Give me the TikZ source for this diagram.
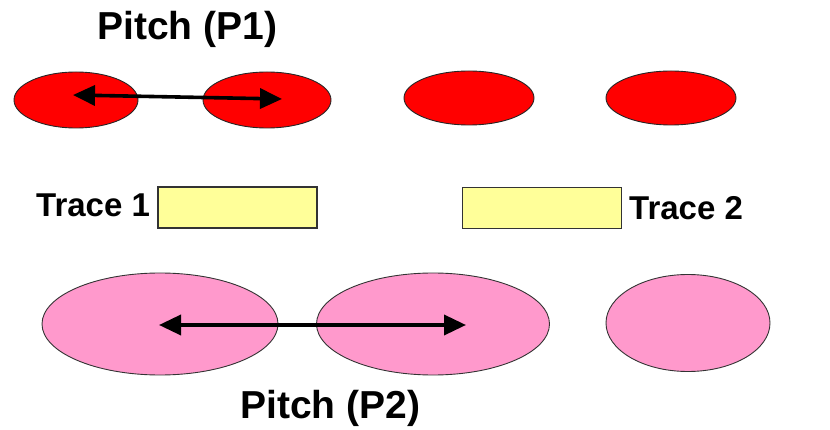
\documentclass[tikz,border=0pt]{standalone}
\usepackage{fontspec}
\setmainfont{Liberation Sans}
\usetikzlibrary{shapes.geometric,arrows.meta}
\definecolor{pitchred}{HTML}{FF0000}
\definecolor{pitchpink}{HTML}{FF99CC}
\definecolor{traceyellow}{HTML}{FFFF99}
\tikzset{
  redpitch/.style={ellipse, draw=black!85, line width=0.9pt, fill=pitchred, inner sep=0pt},
  pinkpitch/.style={ellipse, draw=black!80, line width=0.9pt, fill=pitchpink, inner sep=0pt},
  tracebox/.style={rectangle, draw=black!80, line width=1.4pt, fill=traceyellow, inner sep=0pt,
    minimum width=159pt, minimum height=41pt},
  title/.style={font=\bfseries\fontsize{39}{44}\selectfont, anchor=base west, inner sep=0pt},
  tracelabel/.style={font=\bfseries\fontsize{33}{38}\selectfont, anchor=base west, inner sep=0pt},
  pitcharrow/.style={line width=3.6pt, {Triangle[length=22pt,width=20pt]}-{Triangle[length=22pt,width=20pt]}}
}
\begin{document}
\begin{tikzpicture}[x=1pt, y=-1pt]
  \useasboundingbox (0,0) rectangle (830,430);

  % top row of pitches (P1)
  \node[title] (p1) at (97,40) {Pitch (P1)};
  \node[redpitch, minimum width=124pt, minimum height=56pt] (r1) at (76,100) {};
  \node[redpitch, minimum width=128pt, minimum height=56pt] (r2) at (267,100) {};
  \node[redpitch, minimum width=130pt, minimum height=54pt] (r3) at (469,98) {};
  \node[redpitch, minimum width=130pt, minimum height=54pt] (r4) at (671,98) {};
  \coordinate (r1t) at (73,95);
  \coordinate (r2t) at (282,99);

  % traces
  \node[tracebox] (t1) at (237.5,207.5) {};
  \node[tracebox] (t2) at (542,208) {};
  \node[tracelabel] (t1l) at (36,217) {Trace 1};
  \node[tracelabel] (t2l) at (629,220) {Trace 2};

  % bottom row of pitches (P2)
  \node[pinkpitch, minimum width=236pt, minimum height=102pt] (k1) at (160,324) {};
  \node[pinkpitch, minimum width=233pt, minimum height=102pt] (k2) at (433,324) {};
  \node[pinkpitch, minimum width=164pt, minimum height=97pt] (k3) at (688,323) {};
  \node[title] (p2) at (240,418) {Pitch (P2)};
  \coordinate (k1t) at (159,325);
  \coordinate (k2t) at (466,325);

  % pitch arrows
  \draw[pitcharrow] (r1t) -- (r2t);
  \draw[pitcharrow] (k1t) -- (k2t);
\end{tikzpicture}
\end{document}
